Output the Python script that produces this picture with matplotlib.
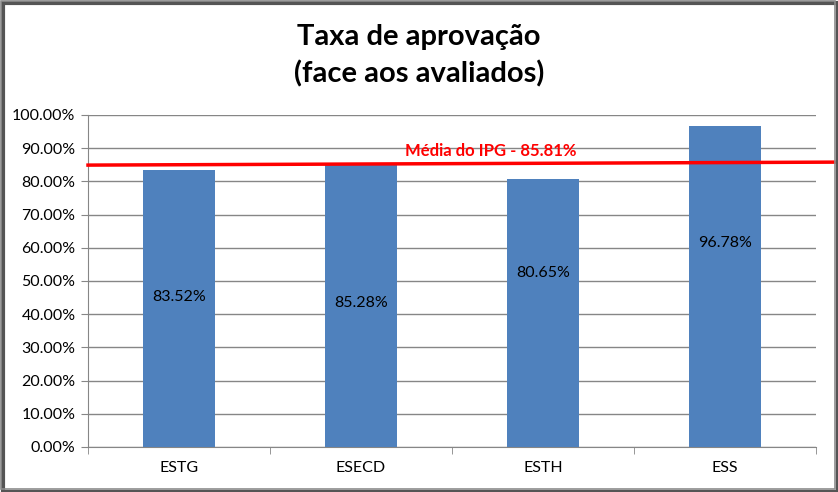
import matplotlib
matplotlib.use("Agg")
import matplotlib.pyplot as plt
from matplotlib.patches import Rectangle
from matplotlib.ticker import FuncFormatter, MultipleLocator

categories = ["ESTG", "ESECD", "ESTH", "ESS"]
values = [83.52, 85.28, 80.65, 96.78]
label_y = [45.2, 43.4, 52.4, 61.4]
mean_value = 85.81
mean_label = "Média do IPG - 85.81%"
title = "Taxa de aprovação\n(face aos avaliados)"

plt.rcParams['font.family'] = ['Lato', 'DejaVu Sans']

fig = plt.figure(figsize=(8.38, 4.92), dpi=100)
ax = fig.add_axes([88/838, 1-447/492, (816-88)/838, (447-115)/492])

x = list(range(len(categories)))
ax.bar(x, values, width=0.4, color="#4F81BD", zorder=3)
for xi, v, ly in zip(x, values, label_y):
    ax.text(xi, ly, f"{v:.2f}%", ha="center", va="center", fontsize=11.5, color="black", zorder=4)

ax.set_xlim(-0.5, len(categories) - 0.5)
ax.set_ylim(0, 100)
ax.yaxis.set_major_locator(MultipleLocator(10))
ax.yaxis.set_major_formatter(FuncFormatter(lambda v, p: f"{v:.2f}%"))
ax.set_xticks(x)
ax.set_xticklabels(categories)
ax.set_xticks([i - 0.5 for i in range(len(categories) + 1)], minor=True)
ax.tick_params(axis="x", which="major", length=0, labelsize=11.5, pad=10)
ax.tick_params(axis="x", which="minor", length=5, color="#868686")
ax.tick_params(axis="y", length=5, color="#868686", labelsize=11.5, pad=4)
ax.grid(axis="y", color="#868686", linewidth=1, zorder=0)
for s in ["top", "right"]:
    ax.spines[s].set_visible(False)
for s in ["left", "bottom"]:
    ax.spines[s].set_color("#868686")

# mean line extends to the figure edge
ax.plot([-0.5, 3.62], [mean_value - 0.9, mean_value], color="#FF0000", linewidth=2.5, clip_on=False, zorder=5)
ax.text(1.24, mean_value + 1.0, mean_label, color="#FF0000", fontsize=12, fontweight="bold",
        ha="left", va="bottom", zorder=5)

fig.text(0.5, 1 - 56/492, title, ha="center", va="center", fontsize=21, fontweight="bold", linespacing=1.45)

# frame with shadow
fig.patches.append(Rectangle((3/838, 0), 835/838, 489/492, transform=fig.transFigure,
                             facecolor="none", edgecolor="#555555", linewidth=3))
fig.patches.append(Rectangle((0.5/838, 3/492), 834/838, 488.5/492, transform=fig.transFigure,
                             facecolor="none", edgecolor="#8C8C8C", linewidth=1.2))

fig.savefig("out.png", dpi=100)
